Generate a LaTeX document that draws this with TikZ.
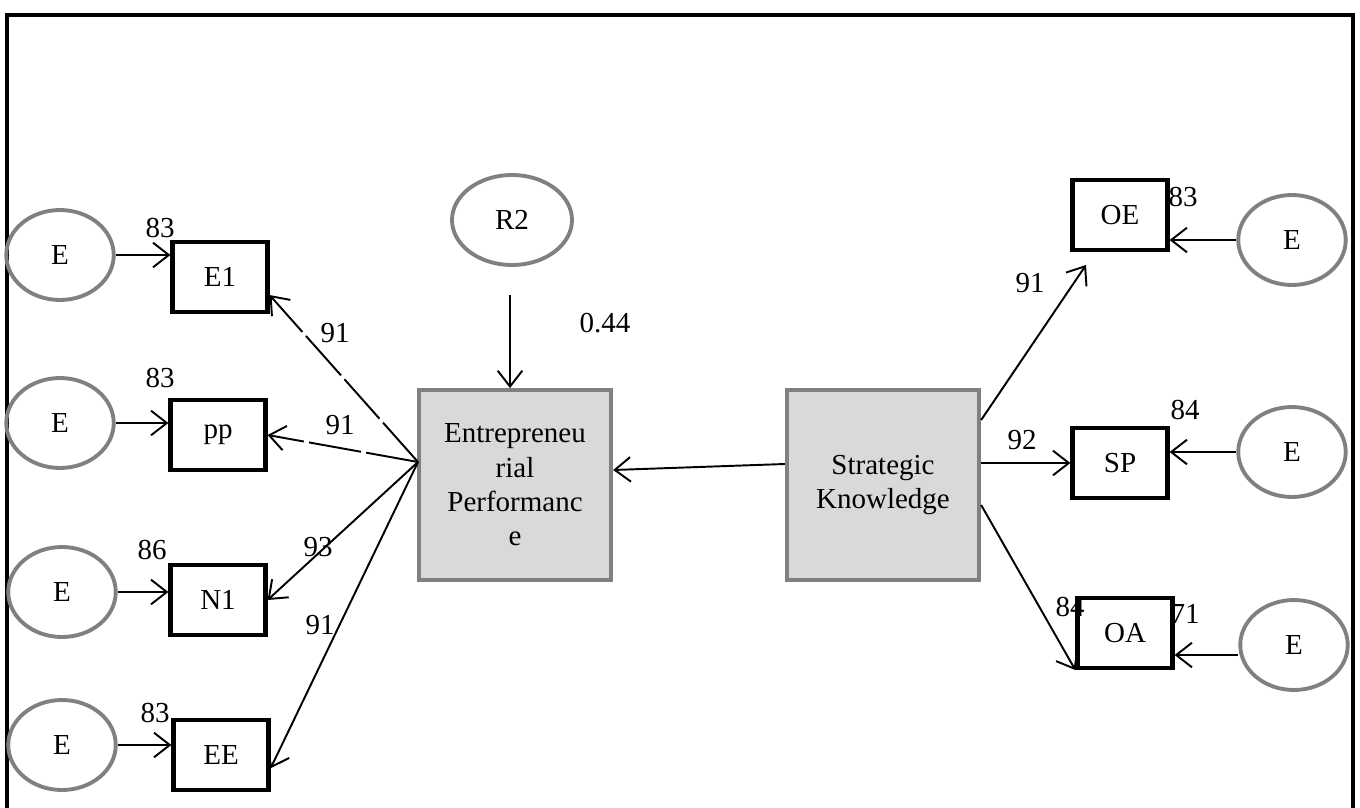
\documentclass[tikz,border=0pt]{standalone}
\usepackage{fontspec}
\setmainfont{Liberation Serif}
\usetikzlibrary{arrows.meta,shapes.geometric}
\begin{document}
\begin{tikzpicture}[
		x=0.02cm, y=-0.02cm,
		item/.style={rectangle, draw, line width=2.4pt, minimum width=1.9cm, minimum height=1.4cm, align=center, font=\fontsize{16.5}{19}\selectfont},
		err/.style={ellipse, draw=gray, line width=2.2pt, minimum width=2.15cm, minimum height=1.8cm, inner sep=0pt, font=\fontsize{16.5}{19}\selectfont},
		latent/.style={rectangle, draw=gray, fill=gray!30, line width=2.2pt, minimum width=3.85cm, minimum height=3.8cm, inner sep=1pt, align=center, font=\fontsize{16.5}{19.5}\selectfont},
		lbl/.style={font=\fontsize{16.5}{19}\selectfont, inner sep=0pt},
		arrow/.style={-{Straight Barb[length=9pt,width=14pt]}, line width=1.1pt},
		longdash/.style={dash pattern=on 30pt off 3pt}
	]
	\useasboundingbox (0,0) rectangle (1360,808);
	% frame
	\draw[line width=2.4pt] (7,850) -- (7,15) -- (1353,15) -- (1353,850);

	% Entrepreneurial Performance side
	\node[latent] (ep) at (515,485) {Entrepreneu\\rial\\Performanc\\e};
	\node[err, minimum width=2.4cm] (r2) at (512,220) {R2};
	\coordinate (r2tip) at (510,295);
	\node[lbl] (l044) at (605,323) {0.44};
	\draw[arrow] (r2tip) -- (ep.north -| r2tip);

	\node[item] (e1) at (220,277) {E1};
	\node[item] (pp) at (218,435) {pp};
	\node[item] (n1) at (218,600) {N1};
	\node[item] (ee) at (221,755) {EE};

	\node[err] (ea) at (60,255) {E};
	\node[err] (eb) at (60,423) {E};
	\node[err] (ec) at (62,592) {E};
	\node[err] (ed) at (62,745) {E};

	\draw[arrow] (ea) -- (e1.west |- ea);
	\draw[arrow] (eb) -- (pp.west |- eb);
	\draw[arrow] (ec) -- (n1.west |- ec);
	\draw[arrow] (ed) -- (ee.west |- ed);

	\node[lbl] (v1) at (160,228) {83};
	\node[lbl] (v2) at (160,378) {83};
	\node[lbl] (v3) at (152,550) {86};
	\node[lbl] (v4) at (155,713) {83};

	\coordinate (hub) at (418,462);
	\draw[arrow, longdash] (hub) -- (e1.-20);
	\draw[arrow, longdash] (hub) -- (pp.east);
	\draw[arrow] (hub) -- (n1.east);
	\draw[arrow] (hub) -- (ee.-15);

	\node[lbl] (w1) at (335,333) {91};
	\node[lbl] (w2) at (340,425) {91};
	\node[lbl] (w3) at (318,547) {93};
	\node[lbl] (w4) at (320,625) {91};

	% Strategic Knowledge side
	\node[latent] (sk) at (883,485) {Strategic\\Knowledge};
	\draw[arrow] (sk.west |- 0,464) -- (ep.east |- 0,470);

	\node[item] (oe) at (1120,215) {OE};
	\node[item] (sp) at (1120,463) {SP};
	\node[item] (oa) at (1125,633) {OA};

	\node[err] (ee1) at (1292,240) {E};
	\node[err] (ee2) at (1292,452) {E};
	\node[err] (ee3) at (1294,645) {E};

	\draw[arrow] (ee1) -- (oe.east |- ee1);
	\draw[arrow] (ee2) -- (sp.east |- ee2);
	\draw[arrow] (ee3.west |- 0,655) -- (oa.east |- 0,655);

	\coordinate (oetip) at (1086,265);
	\draw[arrow] (sk.east |- 0,420) -- (oetip);
	\draw[arrow] (sk.east |- 0,463) -- (sp.west);
	\draw[arrow] (sk.east |- 0,505) -- (oa.south west);

	\node[lbl] (u1) at (1183,197) {83};
	\node[lbl] (u2) at (1185,410) {84};
	\node[lbl] (u3) at (1185,614) {71};
	\node[lbl] (u4) at (1070,607) {84};
	\node[lbl] (u5) at (1030,283) {91};
	\node[lbl] (u6) at (1022,440) {92};
\end{tikzpicture}
\end{document}
